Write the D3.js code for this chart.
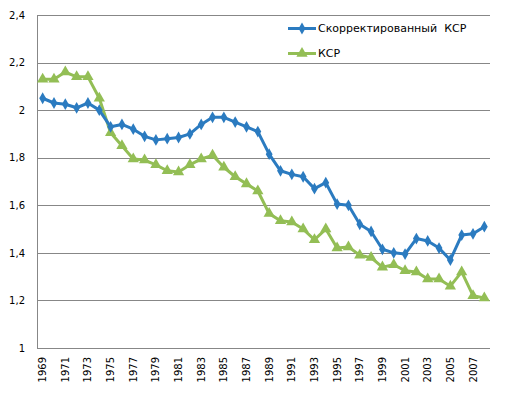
<!DOCTYPE html>
<html><head><meta charset="utf-8">
<script src="https://cdn.jsdelivr.net/npm/d3@7"></script>
<style>body{margin:0;background:#fff}svg{display:block}text{font-family:"DejaVu Sans",Verdana,sans-serif;font-size:10px;fill:#000}</style>
</head><body><svg id="c" width="505" height="393"></svg>
<script>
const years = d3.range(1969, 2009).map(String);
const tickYears = years.filter((d,i)=>i%2===0);
const corrected = [2.05,2.03,2.025,2.01,2.03,2.0,1.93,1.94,1.92,1.89,1.875,1.88,1.885,1.90,1.94,1.97,1.97,1.95,1.93,1.91,
  1.815,1.745,1.73,1.72,1.67,1.695,1.605,1.60,1.52,1.49,1.415,1.40,1.395,1.46,1.45,1.42,1.37,1.475,1.48,1.51];
const tfr = [2.13,2.13,2.16,2.14,2.14,2.05,1.905,1.85,1.795,1.79,1.77,1.745,1.74,1.77,1.795,1.81,1.76,1.72,1.69,1.66,
  1.565,1.535,1.53,1.50,1.455,1.50,1.42,1.425,1.39,1.38,1.34,1.35,1.325,1.32,1.29,1.29,1.26,1.32,1.22,1.21];
const yTicks = [1,1.2,1.4,1.6,1.8,2,2.2,2.4];
const seriesNames = ["Скорректированный\u00A0 КСР","КСР"];

const svg = d3.select("#c");
const L=37,R=490,T=15,B=348;
const x = d3.scaleBand().domain(years).range([L,R]);
const y = d3.scaleLinear().domain([1,2.4]).range([B,T]);
const fmt = d => String(d).replace(".",",");

svg.append("g").selectAll("line").data(yTicks).join("line")
  .attr("x1",L).attr("x2",R).attr("y1",d=>Math.round(y(d))+0.5).attr("y2",d=>Math.round(y(d))+0.5)
  .attr("stroke","#878787").attr("stroke-width",1);
svg.append("line").attr("x1",L+0.5).attr("x2",L+0.5).attr("y1",T).attr("y2",B).attr("stroke","#878787");

const ya = d3.axisLeft(y).tickValues(yTicks).tickFormat(fmt).tickSize(0).tickPadding(12);
const gy = svg.append("g").attr("transform",`translate(${L},0)`).call(ya);
gy.select(".domain").remove();
gy.selectAll("text").style("font-family","DejaVu Sans").style("font-size","10px").attr("fill","#000");

const xa = d3.axisBottom(x).tickValues(tickYears).tickSize(0).tickPadding(0);
const gx = svg.append("g").attr("transform",`translate(0,${B})`).call(xa);
gx.select(".domain").remove();
gx.selectAll("text").style("font-family","DejaVu Sans").style("font-size","10px").attr("fill","#000")
  .attr("text-anchor","end").attr("dy","0.35em").attr("y",0)
  .attr("transform","translate(0,9) rotate(-90)");

const blue="#2B7BC0", green="#93BE55";
const line = d3.line().x((d,i)=>x(years[i])+x.bandwidth()/2).y(d=>y(d));
const diamond = d3.symbol().type(d3.symbolDiamond).size(40);
const tri = d3.symbol().type(d3.symbolTriangle).size(55);

function series(vals,color,sym){
  svg.append("path").datum(vals).attr("d",line).attr("fill","none").attr("stroke",color)
    .attr("stroke-width",3).attr("stroke-linejoin","round");
  svg.append("g").selectAll("path").data(vals).join("path")
    .attr("d",sym).attr("fill",color)
    .attr("transform",(d,i)=>`translate(${x(years[i])+x.bandwidth()/2},${y(d)})`);
}
series(tfr,green,tri);
series(corrected,blue,diamond);

const leg=[{n:seriesNames[0],c:blue,s:diamond,y:28.5},{n:seriesNames[1],c:green,s:tri,y:53.5}];
const lg=svg.append("g");
leg.forEach(l=>{
  lg.append("line").attr("x1",288).attr("x2",316).attr("y1",l.y).attr("y2",l.y).attr("stroke",l.c).attr("stroke-width",3);
  lg.append("path").attr("d",l.s).attr("fill",l.c).attr("transform",`translate(302,${l.y})`);
  lg.append("text").attr("x",318).attr("y",l.y).attr("dy","0.35em").style("font-size","11px").text(l.n);
});
</script></body></html>
